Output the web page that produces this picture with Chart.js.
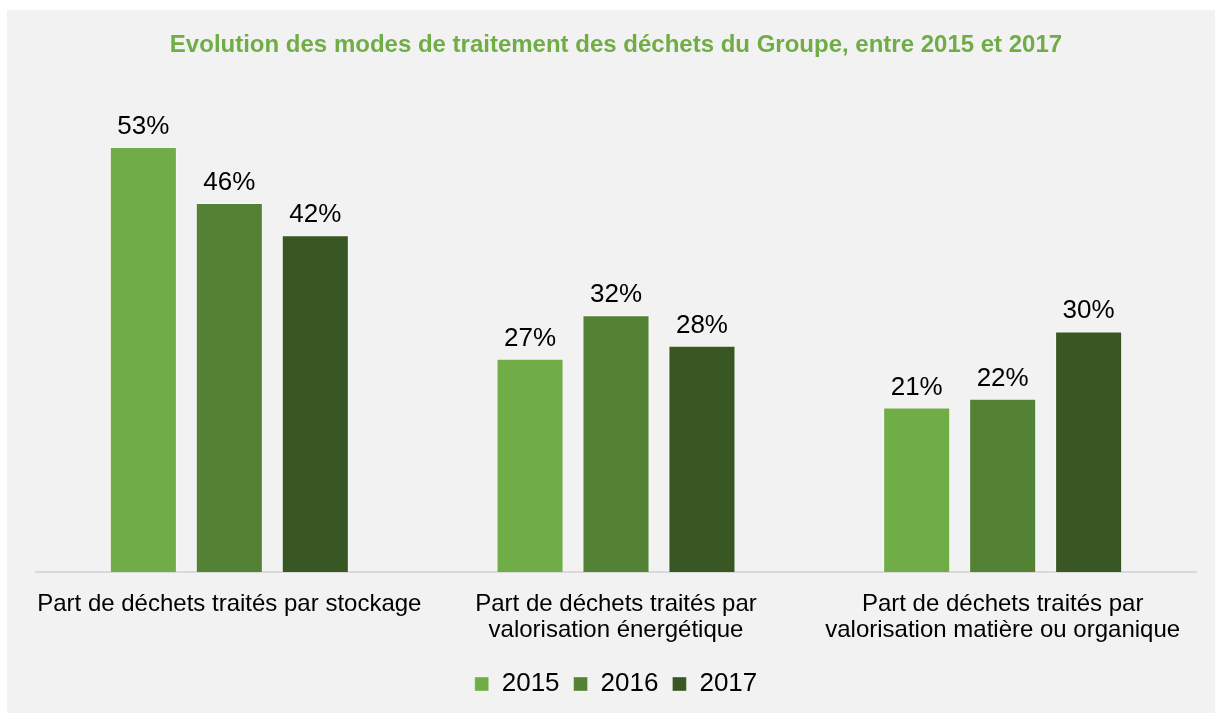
<!DOCTYPE html>
<html>
<head>
<meta charset="utf-8">
<script src="https://cdn.jsdelivr.net/npm/chart.js@4.4.0/dist/chart.umd.min.js"></script>
<style>
  html, body { margin: 0; padding: 0; background: #ffffff; }
  #wrap { position: absolute; left: 7px; top: 10px; width: 1208px; height: 703px; background: #f2f2f2; }
</style>
</head>
<body>
<div id="wrap"><canvas id="modesChart"></canvas></div>
<script>
var categories = [
  ['Part de déchets traités par stockage'],
  ['Part de déchets traités par', 'valorisation énergétique'],
  ['Part de déchets traités par', 'valorisation matière ou organique']
];
var years = ['2015', '2016', '2017'];
var values2015 = [53, 26.6, 20.5];
var values2016 = [46, 32, 21.6];
var values2017 = [42, 28.2, 30];
var colors = ['#70ad47', '#548235', '#385723'];

var FONT = 'Arial, "Liberation Sans", sans-serif';

// draws the % above each bar
var barLabels = {
  id: 'barLabels',
  afterDatasetsDraw: function(chart) {
    var ctx = chart.ctx;
    ctx.save();
    ctx.font = '26px ' + FONT;
    ctx.fillStyle = '#000000';
    ctx.textAlign = 'center';
    ctx.textBaseline = 'alphabetic';
    chart.data.datasets.forEach(function(ds, i) {
      chart.getDatasetMeta(i).data.forEach(function(bar, j) {
        ctx.fillText(Math.round(ds.data[j]) + '%', bar.x, bar.y - 13);
      });
    });
    ctx.restore();
  }
};

var ctx = document.getElementById('modesChart').getContext('2d');
var modesChart = new Chart(ctx, {
  type: 'bar',
  data: {
    labels: categories,
    datasets: [{
      label: years[0],
      data: values2015,
      backgroundColor: colors[0],
      borderColor: 'rgba(255, 255, 255, 0.35)',
      borderWidth: 1
    }, {
      label: years[1],
      data: values2016,
      backgroundColor: colors[1],
      borderColor: 'rgba(255, 255, 255, 0.35)',
      borderWidth: 1
    }, {
      label: years[2],
      data: values2017,
      backgroundColor: colors[2],
      borderColor: 'rgba(255, 255, 255, 0.35)',
      borderWidth: 1
    }]
  },
  options: {
    responsive: true,
    maintainAspectRatio: false,
    animation: false,
    categoryPercentage: 0.667,
    barPercentage: 0.78,
    layout: {
      padding: { left: 29, right: 19, top: 0, bottom: 6 }
    },
    plugins: {
      title: {
        display: true,
        text: 'Evolution des modes de traitement des déchets du Groupe, entre 2015 et 2017',
        color: '#70ad47',
        font: { family: FONT, size: 24, weight: 'bold' },
        padding: { top: 21, bottom: 31 }
      },
      legend: {
        position: 'bottom',
        labels: {
          color: '#000000',
          font: { family: FONT, size: 26 },
          boxWidth: 14,
          boxHeight: 14,
          padding: 14
        }
      },
      tooltip: { enabled: false }
    },
    scales: {
      x: {
        grid: { display: false },
        border: { display: true, color: '#d9d9d9', width: 2 },
        ticks: {
          color: '#000000',
          font: { family: FONT, size: 24, lineHeight: 1.1 },
          padding: 11,
          maxRotation: 0,
          autoSkip: false
        },
        afterFit: function(scale) {
          scale.height = 85;
        }
      },
      y: {
        display: false,
        beginAtZero: true,
        min: 0,
        max: 60
      }
    }
  },
  plugins: [barLabels]
});
</script>
</body>
</html>
